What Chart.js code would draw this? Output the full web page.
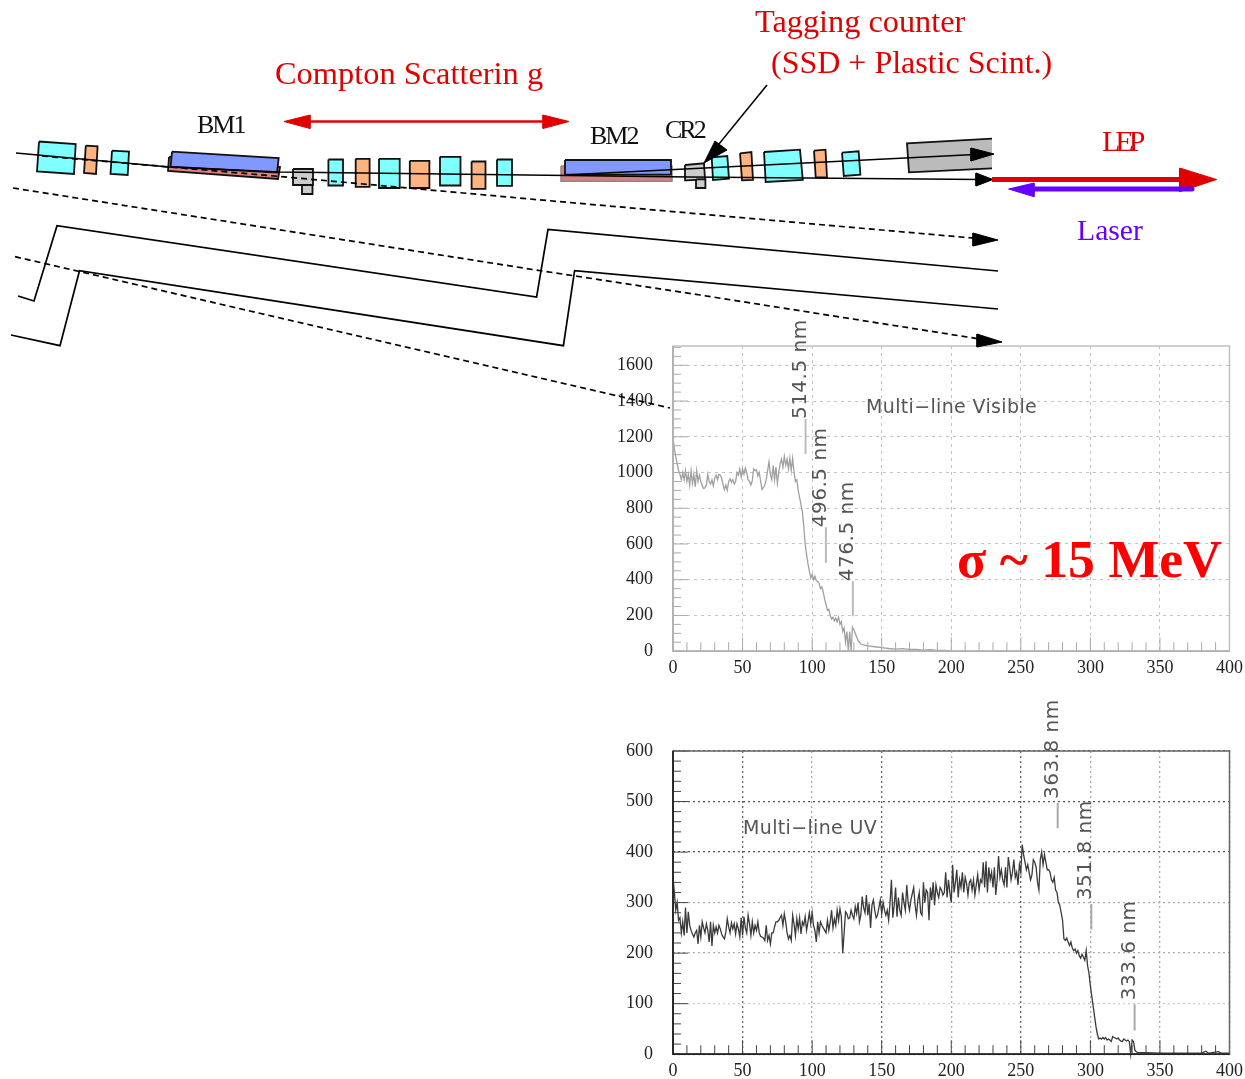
<!DOCTYPE html>
<html>
<head>
<meta charset="utf-8">
<title>Beamline and laser spectra</title>
<script src="https://cdn.jsdelivr.net/npm/chart.js@4"></script>
<style>
  html, body { margin: 0; padding: 0; background: #fff; overflow: hidden; }
  canvas { position: absolute; display: block; }
  #vis-chart { left: 613px; top: 310px; }
  #uv-chart { left: 613px; top: 690px; }
  #layout-chart { left: 0; top: 0; pointer-events: none; }
</style>
</head>
<body>
<canvas id="vis-chart" width="636" height="372"></canvas>
<canvas id="uv-chart" width="636" height="395"></canvas>
<canvas id="layout-chart" width="1245" height="1079"></canvas>
<script>
// Multi-line Visible spectrum, one value per channel from 0
var visY = [
  1200,1130,1090,1050,1010,990,960,1000,960,1010,
  950,990,930,1010,940,990,920,1010,950,985,
  950,925,910,915,930,990,950,935,960,925,
  970,985,960,990,985,970,930,905,930,900,
  950,965,945,960,935,950,1000,985,1020,975,
  1020,990,1025,1000,960,950,930,955,1020,1010,
  1015,980,1000,950,905,915,930,960,1010,1060,
  990,960,1040,960,1030,940,1000,1050,1075,1030,
  1090,1040,1075,1020,1080,1010,1080,1000,950,960,
  900,860,820,780,700,600,540,490,450,410,
  430,400,420,395,390,380,350,360,330,290,
  260,230,235,200,180,190,170,185,165,190,
  150,165,110,130,50,110,0,110,0,135,
  120,100,80,60,50,40
];
var visTailX = [137,140,145,150,155,160,165,170,175,180,185,190,195,200];
var visTailY = [35,30,25,20,15,12,14,10,10,6,8,5,4,2];

// Multi-line UV spectrum, one value per channel from 0
var uvY = [
  350,320,285,300,265,270,240,262,235,290,
  240,282,255,245,238,232,240,245,218,255,
  232,262,250,240,258,245,222,262,214,255,
  240,252,240,255,248,238,232,228,242,268,
  252,240,260,248,258,238,258,248,232,270,
  235,272,250,240,275,258,235,262,240,255,
  245,262,240,233,232,230,225,255,225,235,
  218,240,240,252,262,262,265,270,275,255,
  278,262,240,228,235,225,275,258,235,268,
  248,270,238,262,255,272,245,262,280,258,
  280,255,245,222,262,240,262,255,250,245,
  240,265,245,262,285,250,268,255,285,265,
  288,272,200,240,282,278,268,270,285,275,
  268,292,278,300,262,275,312,290,280,315,
  275,298,250,295,305,285,270,275,290,305,
  278,300,285,275,285,265,300,345,270,295,
  330,272,310,285,275,320,300,285,335,300,
  285,305,318,330,295,275,305,320,280,275,
  340,300,325,320,265,330,305,340,295,335,
  320,310,330,325,315,320,360,310,345,320,
  300,375,320,340,365,310,345,330,360,320,
  350,338,315,340,345,325,345,315,335,355,
  325,345,340,380,330,382,320,370,345,360,
  330,370,315,345,392,350,365,345,335,370,
  330,390,370,345,360,385,350,360,335,375,
  360,415,395,380,365,375,360,345,355,385,
  380,370,340,325,385,400,375,395,380,365,
  365,360,345,340,350,325,320,300,295,280,
  265,228,225,230,222,215,222,210,205,208,
  200,205,195,190,198,192,186,205,175,160,
  135,115,95,75,55,40,30,32,30,33,
  30,33,28,30,28,25,35,33,32,30,
  32,28,26,25,30,28,26,28,25,0,
  28,25,8,5,3
];
var uvTailX = [340,350,360,380,383,385,392,394,400];
var uvTailY = [3,2,2,2,6,2,5,2,2];

// wavelength marks: channel, bottom and top of the short line
var visPeakNames = ['514.5 nm','496.5 nm','476.5 nm'];
var visPeakX = [95.3,109.9,129.3];
var visPeakLow = [1103,494,196];
var visPeakHigh = [1299,694,392];
var uvPeakNames = ['363.8 nm','351.8 nm','333.6 nm'];
var uvPeakX = [276.5,300.7,331.8];
var uvPeakLow = [447,247,47];
var uvPeakHigh = [497,297,99];

// beamline layout, in page pixels of the layout chart
var cyanBoxes = [
  [[39,141.5],[75.7,144],[74,174],[37,171.5]],
  [[112,150.7],[129,151.7],[127.7,175],[110.5,174]],
  [[328.4,159.5],[343,159.5],[343,185.5],[328.4,185.5]],
  [[379,158.8],[399.7,158.8],[399.7,188],[379,188]],
  [[440,156.8],[460.5,156.8],[460.5,185.5],[440,185.5]],
  [[497,159.5],[512,159.5],[512,185.8],[497,185.8]],
  [[711.7,157.3],[727.3,156],[729,178.7],[713,180]],
  [[764,152],[800,149.7],[802.8,180],[765.7,182]],
  [[842,152.7],[858.6,151.3],[860.4,174.7],[843.8,176]]
];
var orangeBoxes = [
  [[85.8,145.6],[97.6,146.3],[96,174],[84,173]],
  [[355.7,158.8],[369.6,158.8],[369.6,186.8],[355.7,186.8]],
  [[409.8,160.8],[429.4,160.8],[429.4,188],[409.8,188]],
  [[471.6,161.5],[485.5,161.5],[485.5,188.9],[471.6,188.9]],
  [[740,153.3],[751.4,152],[753,180],[742,180.3]],
  [[814,150.7],[825.5,149.7],[827,177.3],[815.7,177.3]]
];
var greyBoxes = [
  [[293,169],[313,169],[313,185],[293,185]],
  [[302,185],[312.5,185],[312.5,194],[302,194]],
  [[685,165],[704,163.3],[705,179.3],[686,180.3]],
  [[696,179.3],[705.4,179.3],[705.4,188],[696,188]]
];
var redBend1 = [[169,157],[280,167],[278,179],[168,171]];
var blueBend1 = [[172,151.7],[278.7,158],[277,172.6],[170.6,166.6]];
var redBend2 = [[561,166],[672,166],[672,181.3],[561,181.3]];
var blueBend2 = [[565,160],[671,160],[671,174.7],[565,174.7]];
var detector = [[992,138.7],[907,143.3],[909,172.3],[992,168.3]];

var beamMain = [[16,153],[169,167],[280,172],[690,177],[980,179.5]];
var beamUpper = [[565,175],[975,154.5]];
var taggingLeader = [[767,85],[710,155]];
var dashedA = [[42,156],[280,176.5],[530,199],[978,238.5]];
var dashedB = [[13,188],[536,270],[700,295],[980,339]];
var dashedC = [[15,256.7],[80,271.7],[670,408]];
var zigzagA = [[18,296],[34,301],[57,225.7],[536.6,297],[548,229.3],[998,271]];
var zigzagB = [[11,335],[60,345.7],[79.5,270.7],[563.4,345.7],[574.6,270.7],[998,309]];

var blackHeads = [
  [[998,240],[973,233],[973,246]],
  [[1002,342],[977,334],[977,347]],
  [[993,179.5],[976,173],[976,186]],
  [[994,154],[971,148],[971,161]],
  [[704,163],[715,141],[727,150]]
];
var comptonLine = [[300,121.5],[555,121.5]];
var comptonHeads = [
  [[284,121.5],[310,115],[310,128.5]],
  [[569,121.5],[543,115],[543,128.5]]
];
var lepLine = [[992,179.5],[1185,179.5]];
var lepHead = [[1216.6,179.5],[1179.6,168],[1179.6,191.7]];
var laserLine = [[1030,189],[1192,189]];
var laserHead = [[1008.6,189],[1034,183],[1034,196.7]];

var layoutTexts = [
  {text: 'Tagging counter', x: 755, y: 32, font: '32.3px "Liberation Serif"', color: '#e00000'},
  {text: '(SSD + Plastic Scint.)', x: 771, y: 73, font: '32px "Liberation Serif"', color: '#e00000'},
  {text: 'Compton Scatterin g', x: 275, y: 84, font: '32.4px "Liberation Serif"', color: '#e00000'},
  {text: 'BM1', x: 197, y: 133, font: '26px "Liberation Serif"', color: '#111', spacing: '-2px'},
  {text: 'BM2', x: 590, y: 144, font: '26px "Liberation Serif"', color: '#111', spacing: '-2px'},
  {text: 'CR2', x: 665, y: 138, font: '26px "Liberation Serif"', color: '#111', spacing: '-3px'},
  {text: 'LEP', x: 1102, y: 151, font: '30px "Liberation Serif"', color: '#e00000', spacing: '-5px'},
  {text: 'Laser', x: 1077, y: 240, font: '29.7px "Liberation Serif"', color: '#6600ff'},
  {text: 'σ ~ 15 MeV', x: 957, y: 577, font: 'bold 53.8px "Liberation Serif"', color: '#ff0000'}
];

function pts(pairs) {
  return pairs.map(function (p) { return {x: p[0], y: p[1]}; });
}

// builds the scatter points of a spectrum from its channel values and tail
function spectrumPoints(values, tailX, tailY) {
  var out = values.map(function (v, i) { return {x: i, y: v}; });
  tailX.forEach(function (x, i) { out.push({x: x, y: tailY[i]}); });
  return out;
}

function markerSets(xs, lows, highs, color) {
  return xs.map(function (x, i) {
    return {
      data: [{x: x, y: lows[i]}, {x: x, y: highs[i]}],
      showLine: true, pointRadius: 0, borderColor: color, borderWidth: 2
    };
  });
}

// short inward ticks, the frame and the rotated wavelength names
function spectrumPlugin(cfg) {
  return {
    id: 'spectrumExtras',
    afterDatasetsDraw: function (chart) {
      var c = chart.ctx, a = chart.chartArea, sx = chart.scales.x, sy = chart.scales.y, v;
      c.save();
      c.strokeStyle = cfg.tickColor;
      c.lineWidth = 1;
      c.beginPath();
      for (v = 0; v <= 400; v += 10) {
        var px = sx.getPixelForValue(v);
        c.moveTo(px, a.bottom);
        c.lineTo(px, a.bottom - (v % 50 === 0 ? 14 : 9));
      }
      for (v = 0; v <= sy.max; v += cfg.minorY) {
        var py = sy.getPixelForValue(v);
        c.moveTo(a.left, py);
        c.lineTo(a.left + (v % cfg.majorY === 0 ? 15 : 8), py);
      }
      c.stroke();
      c.strokeStyle = cfg.frameColor;
      c.lineWidth = 1.5;
      c.strokeRect(a.left, a.top, a.right - a.left, a.bottom - a.top);
      c.strokeStyle = cfg.axisColor;
      c.lineWidth = 1.8;
      c.beginPath();
      c.moveTo(a.left, a.top);
      c.lineTo(a.left, a.bottom);
      c.lineTo(a.right, a.bottom);
      c.stroke();
      c.fillStyle = cfg.textColor;
      c.font = cfg.labelFont;
      c.letterSpacing = cfg.labelSpacing;
      c.textAlign = 'left';
      c.textBaseline = 'alphabetic';
      cfg.names.forEach(function (name, i) {
        c.save();
        c.translate(sx.getPixelForValue(cfg.xs[i]), sy.getPixelForValue(cfg.tops[i]) - cfg.labelGap);
        c.rotate(-Math.PI / 2);
        c.fillText(name, 0, 0);
        c.restore();
      });
      c.font = cfg.titleFont;
      c.letterSpacing = '0.35px';
      c.fillText(cfg.title, cfg.titleX, cfg.titleY);
      c.restore();
    }
  };
}

function spectrumChart(id, series, markers, opts, extras) {
  return new Chart(document.getElementById(id), {
    type: 'scatter',
    data: {datasets: [{
      data: series, showLine: true, tension: 0, pointRadius: 0,
      borderColor: opts.lineColor, borderWidth: opts.lineWidth, clip: false
    }].concat(markers)},
    options: {
      responsive: false,
      animation: false,
      layout: {padding: {top: opts.padTop, right: 15, left: 0, bottom: 0}},
      plugins: {legend: {display: false}, tooltip: {enabled: false}},
      scales: {
        x: {
          min: 0, max: 400,
          afterFit: function (s) { s.height = opts.xHeight; },
          ticks: {
            stepSize: 50, maxRotation: 0, autoSkip: false, padding: 6, includeBounds: false,
            color: '#222', font: {family: 'Liberation Serif', size: 18},
            callback: function (v) { return String(v); }
          },
          border: {display: false, dash: opts.dash},
          grid: {drawTicks: false, color: opts.xGrid, lineWidth: opts.gridWidth}
        },
        y: {
          min: 0, max: opts.yMax,
          afterFit: function (s) { s.width = 60; },
          ticks: {
            stepSize: opts.yStep, autoSkip: false, padding: 20, includeBounds: false,
            color: '#222', font: {family: 'Liberation Serif', size: 18},
            callback: function (v) { return String(v); }
          },
          border: {display: false, dash: opts.dash},
          grid: {drawTicks: false, color: opts.yGrid, lineWidth: opts.gridWidth}
        }
      }
    },
    plugins: [spectrumPlugin(extras)]
  });
}

spectrumChart('vis-chart',
  spectrumPoints(visY, visTailX, visTailY),
  markerSets(visPeakX, visPeakLow, visPeakHigh, '#bbb'),
  {
    lineColor: '#a0a0a0', lineWidth: 1.3, padTop: 36, xHeight: 30, yMax: 1708, yStep: 200,
    dash: [3, 4], gridWidth: 1, xGrid: '#c4c4c4', yGrid: '#c4c4c4'
  },
  {
    tickColor: '#aaa', frameColor: '#c0c0c0', axisColor: '#b0b0b0', minorY: 50, majorY: 200,
    textColor: '#555', labelFont: '20px "DejaVu Sans ExtraLight", "DejaVu Sans"', labelSpacing: '0.5px', labelGap: 0,
    names: visPeakNames, xs: visPeakX, tops: visPeakHigh,
    titleFont: '19px "DejaVu Sans ExtraLight", "DejaVu Sans"', title: 'Multi\u2212line Visible', titleX: 253, titleY: 103
  });

spectrumChart('uv-chart',
  spectrumPoints(uvY, uvTailX, uvTailY),
  markerSets(uvPeakX, uvPeakLow, uvPeakHigh, '#aaa'),
  {
    lineColor: '#3a3a3a', lineWidth: 1.3, padTop: 61, xHeight: 26, yMax: 600, yStep: 100,
    dash: [2, 3], gridWidth: 1.3,
    xGrid: function (ctx) { return [50, 150, 250].indexOf(ctx.tick.value) >= 0 ? '#666' : '#aaa'; },
    yGrid: function (ctx) {
      var v = ctx.tick.value;
      return v >= 400 ? '#555' : (v === 100 ? '#ccc' : '#aaa');
    }
  },
  {
    tickColor: '#444', frameColor: '#666', axisColor: '#222', minorY: 20, majorY: 100,
    textColor: '#555', labelFont: '20px "DejaVu Sans ExtraLight", "DejaVu Sans"', labelSpacing: '0.5px', labelGap: 4,
    names: uvPeakNames, xs: uvPeakX, tops: uvPeakHigh,
    titleFont: '19px "DejaVu Sans ExtraLight", "DejaVu Sans"', title: 'Multi\u2212line UV', titleX: 130, titleY: 144
  });

// schematic layers, later ones on top
var layers = [];
function addShape(pairs, fill, stroke, width) {
  // repeat the first corner so the outline closes too
  layers.push({
    data: pts(pairs.concat([pairs[0]])), showLine: true, pointRadius: 0, tension: 0,
    fill: 'shape', backgroundColor: fill,
    borderColor: stroke || fill, borderWidth: width === undefined ? 1.8 : width,
    clip: false, order: -layers.length
  });
}
function addLine(pairs, color, width, dash, cap) {
  layers.push({
    data: pts(pairs), showLine: true, pointRadius: 0, tension: 0, fill: false,
    borderColor: color, borderWidth: width, borderDash: dash || [],
    borderCapStyle: cap || 'butt', clip: false, order: -layers.length
  });
}

addShape(redBend1, '#e08080', '#111');
addShape(blueBend1, '#8098ff', '#111');
addShape(redBend2, '#d88080', '#888', 1.5);
addShape(blueBend2, '#8098ff', '#111');
cyanBoxes.forEach(function (b) { addShape(b, '#80ffff', '#111'); });
orangeBoxes.forEach(function (b) { addShape(b, '#ffb380', '#111'); });
greyBoxes.forEach(function (b) { addShape(b, '#cccccc', '#111'); });
addLine(detector, '#111', 1.8);
layers[layers.length - 1].fill = 'shape';
layers[layers.length - 1].backgroundColor = '#bbbbbb';

addLine(beamMain, '#000', 1.7);
addLine(beamUpper, '#000', 1.7);
addLine(taggingLeader, '#000', 1.5);
addLine(dashedA, '#000', 1.7, [6, 4]);
addLine(dashedB, '#000', 1.7, [6, 4]);
addLine(dashedC, '#000', 1.7, [6, 4]);
addLine(zigzagA, '#000', 1.7);
addLine(zigzagB, '#000', 1.7);
blackHeads.forEach(function (h) { addShape(h, '#000', '#000', 1); });
addLine(comptonLine, '#e00000', 2.5);
comptonHeads.forEach(function (h) { addShape(h, '#e00000', '#e00000', 1); });
addLine(lepLine, '#e00000', 5);
addShape(lepHead, '#e00000', '#e00000', 1);
addLine(laserLine, '#6600ff', 5, [], 'round');
addShape(laserHead, '#6600ff', '#6600ff', 1);

new Chart(document.getElementById('layout-chart'), {
  type: 'scatter',
  data: {datasets: layers},
  options: {
    responsive: false,
    animation: false,
    layout: {padding: 0},
    plugins: {legend: {display: false}, tooltip: {enabled: false}},
    scales: {
      x: {type: 'linear', display: false, min: 0, max: 1245},
      y: {type: 'linear', display: false, min: 0, max: 1079, reverse: true}
    }
  },
  plugins: [{
    id: 'layoutTexts',
    afterDatasetsDraw: function (chart) {
      var c = chart.ctx;
      c.save();
      c.textAlign = 'left';
      c.textBaseline = 'alphabetic';
      layoutTexts.forEach(function (t) {
        c.font = t.font;
        c.fillStyle = t.color;
        c.letterSpacing = t.spacing || '0px';
        c.fillText(t.text, chart.scales.x.getPixelForValue(t.x), chart.scales.y.getPixelForValue(t.y));
      });
      c.restore();
    }
  }]
});
</script>
</body>
</html>
